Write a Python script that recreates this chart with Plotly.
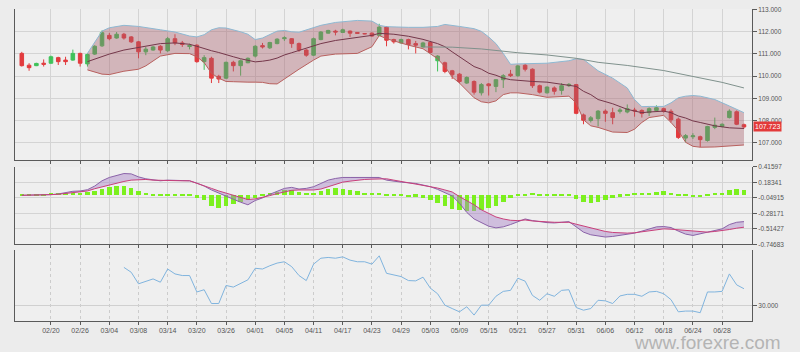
import plotly.graph_objects as go
from plotly.subplots import make_subplots

# ---------------- data ----------------
idx = list(range(100))

opens = [111.02,110.49,110.47,110.58,110.58,110.83,110.72,110.72,111.02,110.55,
         110.99,111.36,111.83,111.71,111.88,111.76,111.54,111.09,111.17,111.34,
         111.14,111.68,111.49,111.33,111.39,110.65,110.80,109.99,109.91,110.62,
         110.47,110.60,110.90,111.37,111.27,111.46,111.68,111.68,111.46,111.17,
         110.94,111.64,111.93,112.02,111.96,112.02,111.96,111.91,111.93,111.83,
         112.20,111.64,111.49,111.64,111.46,111.31,111.51,110.69,110.60,110.24,
         110.09,109.69,109.76,109.25,109.65,109.54,109.84,110.09,110.02,110.49,
         110.31,109.57,109.25,109.47,109.36,109.57,109.62,108.26,108.01,108.09,
         108.43,108.36,108.42,108.39,108.48,108.46,108.36,108.46,108.54,108.42,
         108.07,107.22,107.28,107.28,107.11,107.70,107.74,108.14,108.40,107.82]
highs = [111.09,110.58,110.60,110.75,110.92,110.87,110.87,111.19,111.05,111.02,
         111.39,112.05,111.94,111.98,111.94,111.80,111.58,111.31,111.36,111.39,
         111.76,111.88,111.58,111.46,111.43,110.94,110.87,110.06,110.65,110.69,
         110.75,110.84,111.39,111.49,111.54,111.70,111.79,111.71,111.51,111.21,
         111.73,112.02,112.08,112.08,112.13,112.05,111.98,111.93,111.96,112.35,
         112.23,111.68,111.68,111.68,111.58,111.54,111.54,110.94,110.65,110.28,
         110.13,109.99,109.81,109.69,109.69,109.87,110.09,110.28,110.50,110.55,
         110.35,109.62,109.54,109.54,109.69,109.69,109.65,108.32,108.21,108.48,
         108.51,108.58,108.58,108.73,108.58,108.51,108.60,108.69,108.58,108.51,
         108.14,107.40,107.44,107.33,107.77,108.14,107.88,108.51,108.46,107.87]
lows = [110.43,110.24,110.45,110.43,110.55,110.50,110.50,110.69,110.43,110.43,
        110.95,111.31,111.61,111.68,111.64,111.49,110.80,110.94,111.14,111.02,
        111.09,111.39,111.31,111.20,110.60,110.28,109.69,109.69,109.87,110.21,
        110.02,110.58,110.84,111.24,111.22,111.43,111.58,111.27,111.09,110.87,
        110.90,111.61,111.91,111.83,111.94,111.76,111.91,111.88,111.76,111.79,
        111.34,111.46,111.46,111.20,111.02,111.29,111.02,110.21,110.13,109.87,
        109.69,109.65,109.17,109.13,109.13,109.28,109.47,109.96,109.97,110.21,
        109.47,109.22,109.22,109.17,109.17,109.51,108.29,107.84,107.92,107.74,
        107.95,107.84,108.32,108.33,108.18,108.14,108.21,108.42,108.36,107.92,
        107.18,107.03,107.18,106.81,107.06,107.62,107.70,108.10,107.80,107.65]
closes = [110.47,110.38,110.57,110.53,110.87,110.65,110.65,111.02,110.58,110.97,
          111.34,111.95,111.68,111.88,111.71,111.54,111.09,111.21,111.31,111.17,
          111.68,111.49,111.42,111.37,110.65,110.83,109.91,109.87,110.62,110.47,
          110.69,110.80,111.34,111.31,111.51,111.66,111.72,111.46,111.17,110.94,
          111.68,111.98,112.05,111.98,112.08,111.93,111.92,111.90,111.80,112.20,
          111.61,111.54,111.64,111.42,111.39,111.49,111.06,110.90,110.21,110.06,
          109.76,109.94,109.28,109.62,109.57,109.84,110.02,110.02,110.46,110.31,
          109.57,109.28,109.51,109.32,109.57,109.63,108.33,108.02,108.13,108.43,
          108.33,108.14,108.48,108.54,108.44,108.32,108.54,108.58,108.42,108.04,
          107.25,107.33,107.32,107.15,107.74,107.80,107.84,108.43,107.84,107.72]
last_price = 107.723

# Bollinger bands, read at these candle positions
bb_idx = [9,11,12,14,16,17,19,21,23,24,25,26,27,28,29,30,31,32,33,34,35,36,37,38,
          40,41,43,46,48,49,50,51,53,55,57,58,59,60,62,63,64,65,66,67,68,70,72,75,
          76,77,78,79,81,83,84,85,86,88,89,90,91,92,93,95,97,99]
bb_upper = [111.02,112.02,112.17,112.28,112.23,112.19,112.08,111.98,111.80,111.76,
            111.86,112.08,112.17,112.16,112.08,111.99,111.88,111.64,111.71,111.88,
            112.02,112.05,111.99,111.97,112.17,112.28,112.41,112.50,112.47,112.28,
            112.22,112.20,112.19,112.19,112.23,112.32,112.26,112.23,112.13,112.01,
            111.76,111.46,111.02,110.53,110.55,110.58,110.58,110.69,110.78,110.75,
            110.50,110.24,109.91,109.47,108.95,108.63,108.64,108.64,108.80,109.03,
            109.10,109.13,109.10,108.95,108.66,108.36]
bb_mid = [110.65,110.90,110.99,111.17,111.29,111.36,111.46,111.49,111.43,111.34,
          111.23,111.14,111.06,110.95,110.87,110.78,110.72,110.64,110.67,110.72,
          110.81,110.95,111.05,111.15,111.34,111.46,111.60,111.73,111.83,111.92,
          111.91,111.88,111.79,111.65,111.46,111.32,111.09,110.87,110.43,110.31,
          110.13,110.04,109.91,109.84,109.81,109.76,109.73,109.59,109.54,109.32,
          109.17,108.95,108.76,108.51,108.42,108.36,108.39,108.43,108.36,108.21,
          108.12,107.99,107.92,107.77,107.68,107.65]
bb_lower = [110.28,110.09,110.07,110.22,110.31,110.46,110.90,111.02,111.01,110.87,
            110.61,110.13,109.91,109.76,109.75,109.73,109.73,109.73,109.72,109.66,
            109.65,109.87,110.10,110.31,110.72,110.90,110.99,111.02,111.32,111.82,
            111.68,111.58,111.39,111.23,110.78,110.43,109.96,109.69,109.03,108.85,
            108.80,108.89,109.17,109.25,109.25,109.17,109.05,109.10,108.80,108.04,
            107.77,107.70,107.49,107.47,107.62,107.92,108.14,108.24,107.92,107.55,
            107.03,106.85,106.81,106.82,106.87,106.91]

# long moving average (grey)
ma_idx = [55, 59, 63, 68, 72, 76, 79, 83, 88, 92, 96, 99]
ma_vals = [111.31, 111.30, 111.22, 111.05, 110.95, 110.80, 110.62, 110.48, 110.25, 109.97, 109.72, 109.47]

# MACD panel
macd = [-0.010,-0.010,-0.010,-0.005,0.000,0.010,0.030,0.050,0.055,0.074,
        0.129,0.208,0.258,0.292,0.317,0.312,0.267,0.238,0.218,0.208,
        0.218,0.218,0.218,0.208,0.173,0.129,0.070,0.020,-0.020,-0.069,
        -0.114,-0.153,-0.089,-0.049,0.005,0.055,0.094,0.109,0.084,0.094,
        0.119,0.168,0.218,0.243,0.258,0.258,0.258,0.248,0.253,0.258,
        0.218,0.198,0.188,0.178,0.168,0.144,0.119,0.079,0.030,-0.020,
        -0.129,-0.267,-0.366,-0.426,-0.475,-0.500,-0.485,-0.450,-0.406,-0.366,
        -0.391,-0.411,-0.421,-0.426,-0.416,-0.406,-0.485,-0.564,-0.604,-0.624,
        -0.638,-0.629,-0.614,-0.594,-0.579,-0.549,-0.515,-0.485,-0.480,-0.495,
        -0.549,-0.594,-0.614,-0.589,-0.554,-0.534,-0.515,-0.450,-0.416,-0.406]
signal = [-0.010,-0.010,-0.010,-0.005,0.000,0.005,0.015,0.025,0.035,0.055,
          0.089,0.119,0.144,0.168,0.198,0.218,0.228,0.228,0.218,0.213,
          0.208,0.208,0.208,0.208,0.173,0.134,0.094,0.055,0.020,-0.015,
          -0.044,-0.074,-0.064,-0.044,-0.015,0.015,0.040,0.065,0.070,0.070,
          0.070,0.084,0.119,0.154,0.188,0.203,0.218,0.228,0.233,0.238,
          0.238,0.218,0.198,0.183,0.168,0.149,0.129,0.099,0.070,0.040,
          -0.030,-0.089,-0.153,-0.228,-0.287,-0.336,-0.366,-0.386,-0.391,-0.381,
          -0.396,-0.406,-0.416,-0.416,-0.416,-0.416,-0.445,-0.475,-0.505,-0.529,
          -0.554,-0.569,-0.579,-0.579,-0.574,-0.559,-0.549,-0.529,-0.515,-0.520,
          -0.529,-0.539,-0.554,-0.559,-0.564,-0.554,-0.544,-0.525,-0.505,-0.490]
hist = [-0.015,-0.015,-0.015,-0.010,0.010,0.015,0.020,0.025,0.025,0.035,
        0.050,0.079,0.109,0.129,0.129,0.104,0.050,0.012,-0.015,-0.015,
        -0.015,-0.015,-0.015,-0.020,-0.049,-0.079,-0.168,-0.203,-0.168,-0.143,
        -0.114,-0.079,-0.049,-0.025,0.010,0.040,0.070,0.070,0.045,0.020,
        0.030,0.060,0.079,0.094,0.089,0.074,0.050,0.025,0.010,0.012,
        -0.010,-0.015,-0.025,-0.035,-0.030,-0.049,-0.079,-0.119,-0.168,-0.213,
        -0.232,-0.252,-0.252,-0.237,-0.203,-0.168,-0.104,-0.054,-0.020,-0.015,
        0.012,-0.015,-0.015,-0.015,-0.015,-0.020,-0.069,-0.104,-0.119,-0.104,
        -0.079,-0.054,-0.030,-0.015,0.012,0.015,0.030,0.045,0.050,0.020,
        -0.012,-0.025,-0.035,-0.040,-0.015,0.012,0.030,0.070,0.084,0.074]
macd_ticks = [0.41597, 0.18341, -0.04915, -0.28171, -0.51427, -0.74683]
macd_labels = ["0.41597", "0.18341", "-0.04915", "-0.28171", "-0.51427", "-0.74683"]

# RSI panel
rsi_idx = list(range(14, 100))
rsi = [56.0,52.7,44.9,46.7,48.2,46.0,54.9,51.6,50.5,50.5,
       39.4,40.9,31.6,31.6,43.8,42.7,45.4,47.6,55.4,54.9,
       57.1,58.9,59.8,56.5,50.5,47.1,58.2,62.2,62.7,62.2,
       63.1,60.9,59.8,59.8,58.2,63.8,52.0,51.1,49.8,47.1,
       46.9,49.4,42.0,38.2,30.5,28.2,26.0,29.4,23.8,30.5,
       30.5,36.5,39.8,40.5,48.7,46.7,37.1,33.8,38.2,36.5,
       40.5,40.9,28.9,27.1,28.2,33.8,33.4,31.6,36.7,37.8,
       37.8,36.5,39.4,39.8,38.2,34.2,26.0,26.5,26.5,25.4,
       39.4,39.4,39.8,51.6,44.2,41.6]
rsi_ticks = [30]
rsi_labels = ["30.000"]

price_ticks = [107, 108, 109, 110, 111, 112, 113]
price_labels = ["107.000", "108.000", "109.000", "110.000", "111.000", "112.000", "113.000"]

tick_idx = [4, 8, 12, 16, 20, 24, 28, 32, 36, 40, 44, 48, 52, 56, 60, 64, 68, 72, 76, 80, 84, 88, 92, 96]
tick_labels = ["02/20", "02/26", "03/04", "03/08", "03/14", "03/20", "03/26", "04/01", "04/05",
               "04/11", "04/17", "04/23", "04/29", "05/03", "05/09", "05/15", "05/21", "05/27",
               "05/31", "06/06", "06/12", "06/18", "06/24", "06/28"]

# ---------------- figure ----------------
GREEN = "#3fc25a"
RED = "#e23b3e"
fig = make_subplots(rows=3, cols=1)

# Bollinger band
fig.add_trace(go.Scatter(x=bb_idx, y=bb_lower, mode="lines",
                         line=dict(color="#b8605e", width=1), hoverinfo="skip"), row=1, col=1)
fig.add_trace(go.Scatter(x=bb_idx, y=bb_upper, mode="lines", fill="tonexty",
                         fillcolor="rgba(168,96,108,0.40)",
                         line=dict(color="#8db8d2", width=1), hoverinfo="skip"), row=1, col=1)
fig.add_trace(go.Scatter(x=bb_idx, y=bb_mid, mode="lines",
                         line=dict(color="#74374a", width=1)), row=1, col=1)
fig.add_trace(go.Scatter(x=ma_idx, y=ma_vals, mode="lines",
                         line=dict(color="#7f918c", width=1)), row=1, col=1)
fig.add_trace(go.Candlestick(x=idx, open=opens, high=highs, low=lows, close=closes,
                             increasing=dict(line=dict(color=GREEN, width=1), fillcolor=GREEN),
                             decreasing=dict(line=dict(color=RED, width=1), fillcolor=RED),
                             whiskerwidth=0), row=1, col=1)

# MACD
fig.add_trace(go.Bar(x=idx, y=hist, marker=dict(color="#7cf01e", line=dict(width=0)),
                     width=0.62), row=2, col=1)
fig.add_trace(go.Scatter(x=idx, y=macd, mode="lines",
                         line=dict(color="#8a62a8", width=1)), row=2, col=1)
fig.add_trace(go.Scatter(x=idx, y=signal, mode="lines", fill="tonexty",
                         fillcolor="rgba(168,130,200,0.45)",
                         line=dict(color="#c8407a", width=1)), row=2, col=1)

# RSI
fig.add_trace(go.Scatter(x=rsi_idx, y=rsi, mode="lines",
                         line=dict(color="#80b4de", width=1)), row=3, col=1)

xcommon = dict(range=[-0.93, 100.1], showline=True, linecolor="#5a5a5a", linewidth=1,
               ticks="outside", ticklen=3, tickcolor="#5a5a5a", tickvals=tick_idx,
               showgrid=True, gridcolor="#d4d4d4", gridwidth=1, zeroline=False,
               fixedrange=True)
fig.update_xaxes(**xcommon)
fig.update_xaxes(showticklabels=False, rangeslider=dict(visible=False), row=1, col=1)
fig.update_xaxes(showticklabels=False, row=2, col=1)
fig.update_xaxes(ticktext=tick_labels, tickfont=dict(size=7, color="#555555"),
                 griddash="dot", gridcolor="#cccccc", row=3, col=1)

ycommon = dict(side="right", showline=True, mirror=True, linecolor="#5a5a5a", linewidth=1,
               ticks="outside", ticklen=4, tickcolor="#5a5a5a",
               tickfont=dict(size=6.5, color="#555555"),
               showgrid=True, gridcolor="#d4d4d4", gridwidth=1, zeroline=False,
               fixedrange=True)
fig.update_yaxes(**ycommon)
fig.update_yaxes(domain=[0.5149, 1.0], range=[106.22, 113.013], tickvals=price_ticks,
                 ticktext=price_labels, row=1, col=1)
fig.update_yaxes(domain=[0.2459, 0.4937], range=[-0.74683, 0.41597], tickvals=macd_ticks,
                 ticktext=macd_labels, row=2, col=1)
fig.update_yaxes(domain=[0.0, 0.2269], range=[19.8, 67.6], tickvals=rsi_ticks,
                 ticktext=rsi_labels, gridcolor="#d0d0d0", row=3, col=1)

fig.add_annotation(x=1.0, xref="paper", y=last_price, yref="y", text="107.723",
                   showarrow=False, xanchor="left", yanchor="middle", xshift=1,
                   bgcolor="#e33a3a", borderpad=1, font=dict(size=7, color="white"))
fig.add_annotation(x=0.94, xref="paper", y=-0.0705, yref="paper", text="www.forexre.com",
                   showarrow=False, xanchor="center", yanchor="middle", borderpad=0,
                   font=dict(size=19, color="#b4b4b4"))

fig.update_layout(width=800, height=352, margin=dict(l=15, r=48, t=5, b=31),
                  paper_bgcolor="#ececec", plot_bgcolor="#efefef", showlegend=False,
                  bargap=0, font=dict(family="Liberation Sans, Arial", size=7, color="#555555"))

fig.write_html("out.html")
